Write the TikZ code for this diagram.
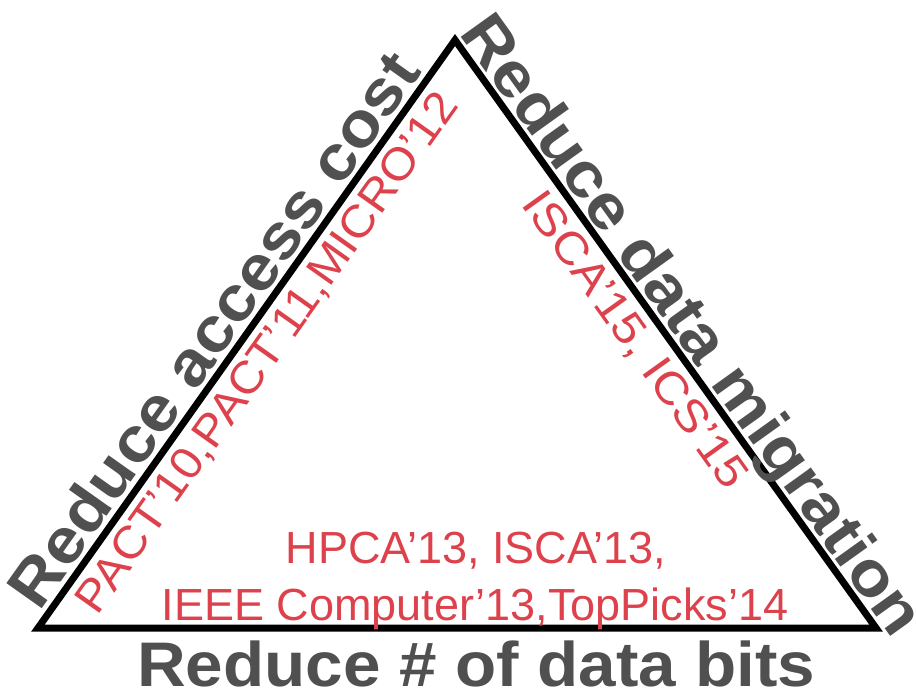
\documentclass[tikz,border=0pt]{standalone}
\usepackage{fontspec}
\setmainfont{Liberation Sans}
\definecolor{lblgray}{HTML}{505050}
\definecolor{refred}{HTML}{DD424C}
\begin{document}
\begin{tikzpicture}[x=1pt,y=-1pt,
  side/.style={line width=7pt, line join=miter},
  goal/.style={inner sep=0pt, anchor=base, text=lblgray, font=\bfseries\fontsize{63}{63}\selectfont},
  paper/.style={inner sep=0pt, anchor=base, text=refred, font=\fontsize{45}{45}\selectfont}]
\useasboundingbox (0,0) rectangle (916,691);
\coordinate (A) at (38,628);
\coordinate (B) at (455,40);
\coordinate (C) at (876,628);
\draw[side] (A) -- (B) -- (C) -- cycle;
\node[goal, rotate=54.65] (gl) at (230.9,341.9) {\scalebox{1.1}[1]{Reduce access cost}};
\node[goal, rotate=-54.4] (gr) at (676.0,336.7) {\scalebox{1.1}[1]{Reduce data migration}};
\node[goal] (gb) at (476,686) {\scalebox{1.07}[1]{Reduce \# of data bits}};
\node[paper, rotate=54.65] (pl) at (278.6,361) {\scalebox{1.07}[1]{PACT’10,PACT’11,MICRO’12}};
\node[paper, rotate=-54.4] (pr) at (624.0,348.1) {\scalebox{1.1}[1]{ISCA’15, ICS’15}};
\node[paper] (pb1) at (476,563) {HPCA’13, ISCA’13,};
\node[paper] (pb2) at (475,620) {IEEE Computer’13,TopPicks’14};
\end{tikzpicture}
\end{document}
